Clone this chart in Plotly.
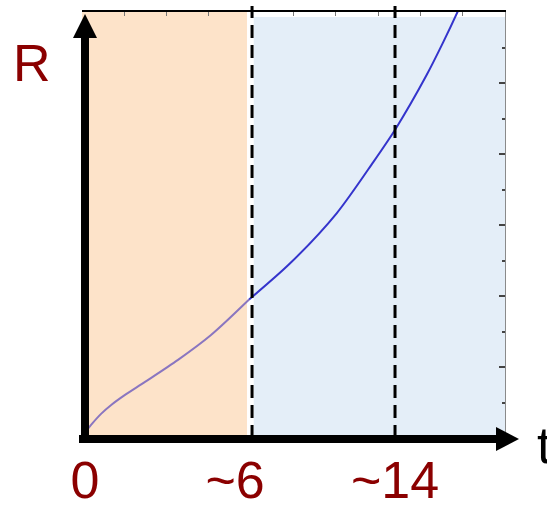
import plotly.graph_objects as go

# Growth curve R(t)
t_vals = [0.1, 0.25, 0.45, 0.69, 1.0, 1.49, 2.27, 3.05, 3.95, 4.92, 6.02, 6.89, 7.42, 8.15, 8.54, 8.90, 9.1]
r_vals = [0.2, 0.42, 0.68, 0.93, 1.20, 1.58, 2.20, 2.90, 3.90, 4.92, 6.33, 7.78, 8.72, 10.23, 11.15, 12.06, 12.6]

# Phase boundaries (axis units) and their labels
phase_edges = [4.02, 7.40]
tick_pos = [0.07, 3.62, 7.40]
tick_text = ["0", "~6", "~14"]
split_t = 3.95

W, H = 547, 505
L, R, T, B = 82, 42, 12, 67
PW, PH = W - L - R, H - T - B


def px(x):
    return (x - L) / PW


def py(y):
    return (H - B - y) / PH


early = [i for i, t in enumerate(t_vals) if t <= split_t]
late = [i for i, t in enumerate(t_vals) if t >= split_t]

fig = go.Figure()
fig.add_trace(go.Scatter(
    x=[t_vals[i] for i in early], y=[r_vals[i] for i in early],
    mode="lines", line=dict(color="#8A76C0", width=2, shape="spline", smoothing=0.8),
    hoverinfo="skip", showlegend=False))
fig.add_trace(go.Scatter(
    x=[t_vals[i] for i in late], y=[r_vals[i] for i in late],
    mode="lines", line=dict(color="#3434CC", width=2, shape="spline", smoothing=0.8),
    hoverinfo="skip", showlegend=False))
# invisible trace carrying the top frame axis
fig.add_trace(go.Scatter(x=[0, 10], y=[0, 0], xaxis="x2", mode="lines",
                         line=dict(width=0), hoverinfo="skip", showlegend=False))

shapes = []
# shaded phases
shapes.append(dict(type="rect", xref="x", yref="y", x0=0, x1=3.90, y0=0, y1=12,
                   fillcolor="#FDE3C9", line=dict(width=0), layer="below"))
shapes.append(dict(type="rect", xref="x", yref="y", x0=4.06, x1=10, y0=0, y1=11.86,
                   fillcolor="#E4EEF8", line=dict(width=0), layer="below"))
# dashed phase boundaries
for xe in phase_edges:
    shapes.append(dict(type="line", xref="x", yref="paper", x0=xe, x1=xe,
                       y0=0, y1=py(6), line=dict(color="black", width=3, dash="13px,7px")))
# horizontal axis arrow
shapes.append(dict(type="line", xref="paper", yref="paper", x0=px(79), x1=px(500),
                   y0=py(439), y1=py(439), line=dict(color="black", width=8)))
shapes.append(dict(type="path", xref="paper", yref="paper",
                   path=f"M {px(496)} {py(427)} L {px(519)} {py(439)} L {px(496)} {py(451)} Z",
                   fillcolor="black", line=dict(width=0)))
# vertical axis arrow
shapes.append(dict(type="line", xref="paper", yref="paper", x0=px(85), x1=px(85),
                   y0=py(443), y1=py(34), line=dict(color="black", width=8)))
shapes.append(dict(type="path", xref="paper", yref="paper",
                   path=f"M {px(73)} {py(38)} L {px(85)} {py(14)} L {px(97)} {py(38)} Z",
                   fillcolor="black", line=dict(width=0)))

font_family = "Liberation Sans, Arial, sans-serif"
fig.update_layout(
    width=W, height=H,
    margin=dict(l=L, r=R, t=T, b=B),
    paper_bgcolor="white", plot_bgcolor="white",
    shapes=shapes,
    xaxis=dict(range=[0, 10], tickvals=tick_pos, ticktext=tick_text, ticks="",
               showline=False, showgrid=False, zeroline=False, ticklabelstandoff=7,
               automargin=False,
               tickfont=dict(size=52, color="#8B0000", family=font_family)),
    xaxis2=dict(range=[0, 10], overlaying="x", side="top", anchor="y", dtick=1,
                ticks="inside", ticklen=4, tickcolor="#777", showticklabels=False,
                showline=True, linecolor="black", linewidth=1.5, automargin=False,
                showgrid=False, zeroline=False),
    yaxis=dict(range=[0, 12], side="right", dtick=2, ticks="inside", ticklen=6,
               tickcolor="#444", tickwidth=1.5, showticklabels=False,
               showline=True, linecolor="#8A8A8A", linewidth=1, automargin=False,
               showgrid=False, zeroline=False,
               minor=dict(ticks="inside", dtick=1, ticklen=3, tickcolor="#444")),
    annotations=[
        dict(text="R", xref="paper", yref="paper", x=px(32), y=py(63),
             xanchor="center", yanchor="middle", showarrow=False,
             font=dict(size=52, color="#8B0000", family=font_family)),
        dict(text="t", xref="paper", yref="paper", x=px(535), y=py(445),
             xanchor="left", yanchor="middle", showarrow=False,
             font=dict(size=52, color="black", family=font_family)),
    ],
)

fig.write_html("out.html")
